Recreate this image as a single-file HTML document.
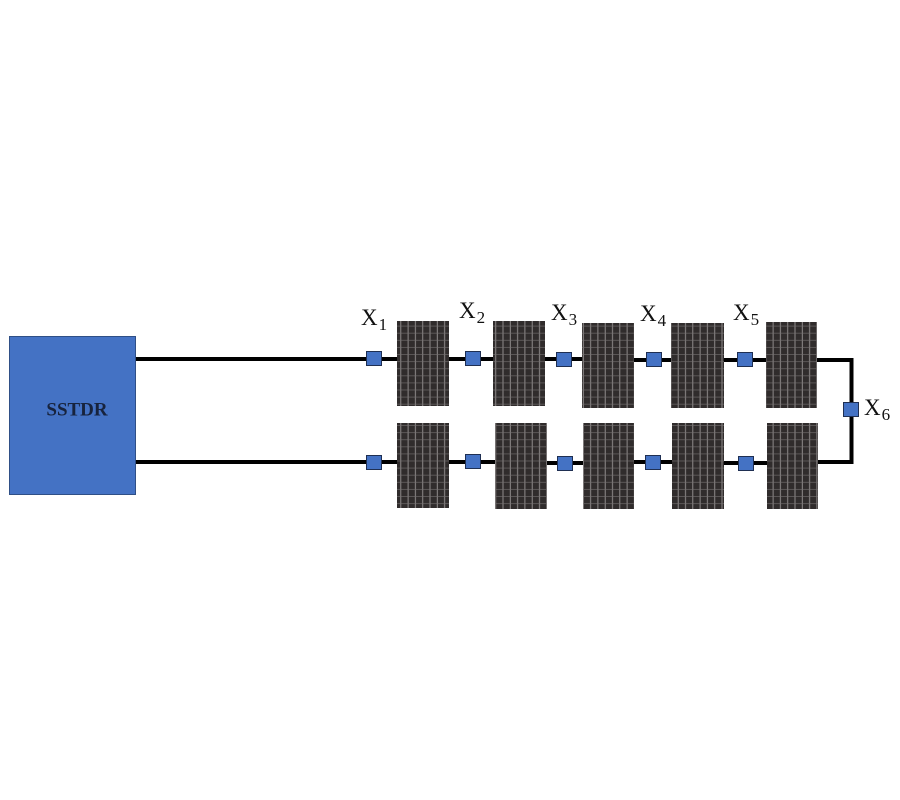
<!DOCTYPE html>
<html>
<head>
<meta charset="utf-8">
<style>
  html,body{margin:0;padding:0;background:#ffffff;}
  svg{display:block;}
</style>
</head>
<body>
<svg width="900" height="800" viewBox="0 0 900 800" xmlns="http://www.w3.org/2000/svg">
  <defs>
    <pattern id="grid" x="0" y="0" width="7.3" height="7.1" patternUnits="userSpaceOnUse">
      <rect width="7.3" height="7.1" fill="#302c2c"/>
      <line x1="6.6" y1="0" x2="6.6" y2="7.1" stroke="#9a9696" stroke-width="0.9"/>
      <line x1="0" y1="6.6" x2="7.3" y2="6.6" stroke="#767272" stroke-width="0.6"/>
    </pattern>
  </defs>
  <rect width="900" height="800" fill="#ffffff"/>

  <!-- wires -->
  <g stroke="#000" stroke-width="4" fill="none">
    <line x1="136" y1="359" x2="397" y2="359"/>
    <line x1="136" y1="462" x2="397" y2="462"/>
    <line x1="449" y1="359" x2="493" y2="359"/>
    <line x1="545" y1="359" x2="582" y2="359"/>
    <line x1="634" y1="360" x2="671" y2="360"/>
    <line x1="724" y1="360" x2="766" y2="360"/>
    <line x1="449" y1="462" x2="495" y2="462"/>
    <line x1="547" y1="463" x2="583" y2="463"/>
    <line x1="634" y1="462" x2="672" y2="462"/>
    <line x1="724" y1="463" x2="767" y2="463"/>
    <polyline points="817,360 851.5,360 851.5,462 818,462"/>
  </g>

  <!-- SSTDR box -->
  <rect x="9.5" y="336.5" width="126" height="158" fill="#4472c4" stroke="#2f4f86" stroke-width="1"/>
  <text x="77" y="415.5" text-anchor="middle" font-family="'Liberation Serif', serif" font-weight="bold" font-size="19" fill="#17233d">SSTDR</text>

  <!-- panels top -->
  <rect x="397" y="321" width="52" height="85" fill="url(#grid)"/>
  <rect x="493" y="321" width="52" height="85" fill="url(#grid)"/>
  <rect x="582" y="323" width="52" height="85" fill="url(#grid)"/>
  <rect x="671" y="323" width="53" height="85" fill="url(#grid)"/>
  <rect x="766" y="322" width="51" height="86" fill="url(#grid)"/>
  <!-- panels bottom -->
  <rect x="397" y="423" width="52" height="85" fill="url(#grid)"/>
  <rect x="495" y="423" width="52" height="86" fill="url(#grid)"/>
  <rect x="583" y="423" width="51" height="86" fill="url(#grid)"/>
  <rect x="672" y="423" width="52" height="86" fill="url(#grid)"/>
  <rect x="767" y="423" width="51" height="86" fill="url(#grid)"/>

  <!-- sensor squares -->
  <g fill="#4472c4" stroke="#1f2f52" stroke-width="1">
    <rect x="366.5" y="351.5" width="15" height="14"/>
    <rect x="465.5" y="351.5" width="15" height="14"/>
    <rect x="556.5" y="352.5" width="15" height="14"/>
    <rect x="646.5" y="352.5" width="15" height="14"/>
    <rect x="737.5" y="352.5" width="15" height="14"/>
    <rect x="366.5" y="455.5" width="15" height="14"/>
    <rect x="465.5" y="454.5" width="15" height="14"/>
    <rect x="557.5" y="456.5" width="15" height="14"/>
    <rect x="645.5" y="455.5" width="15" height="14"/>
    <rect x="738.5" y="456.5" width="15" height="14"/>
    <rect x="843.5" y="402.5" width="15" height="14"/>
  </g>

  <!-- labels -->
  <g font-family="'Liberation Serif', serif" fill="#111">
    <text x="361" y="325" font-size="23">X<tspan font-size="17" dx="1" dy="5">1</tspan></text>
    <text x="459" y="318" font-size="23">X<tspan font-size="17" dx="1" dy="5">2</tspan></text>
    <text x="551" y="320" font-size="23">X<tspan font-size="17" dx="1" dy="5">3</tspan></text>
    <text x="640" y="321" font-size="23">X<tspan font-size="17" dx="1" dy="5">4</tspan></text>
    <text x="733" y="320" font-size="23">X<tspan font-size="17" dx="1" dy="5">5</tspan></text>
    <text x="864" y="415" font-size="23">X<tspan font-size="17" dx="1" dy="5">6</tspan></text>
  </g>
</svg>
</body>
</html>
